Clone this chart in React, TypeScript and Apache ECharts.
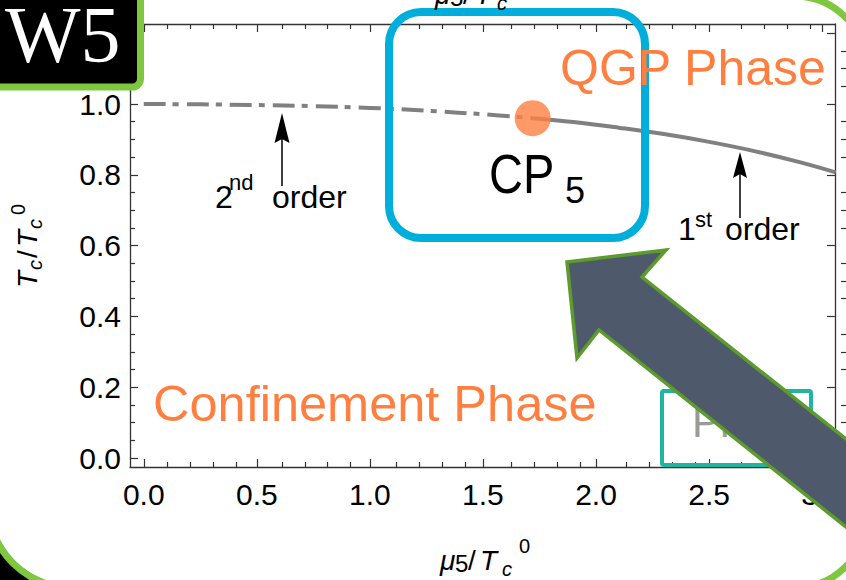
import React, { useEffect, useRef } from "react";
import * as echarts from "echarts";

// ---- data ----
const muSecondOrder = [0, 0.25, 0.5, 0.75, 1.0, 1.25, 1.5, 1.72];
const tcSecondOrder = [1.0, 0.999, 0.997, 0.994, 0.989, 0.981, 0.971, 0.96];
const muFirstOrder = [1.72, 1.9, 2.1, 2.3, 2.5, 2.7, 2.9, 3.06];
const tcFirstOrder = [0.96, 0.949, 0.933, 0.915, 0.893, 0.867, 0.836, 0.807];
const criticalPoint = [1.72, 0.96];

const xMajorTicks = [0, 0.5, 1.0, 1.5, 2.0, 2.5, 3.0];
const xMinorTicks = [0.1, 0.2, 0.3, 0.4, 0.6, 0.7, 0.8, 0.9, 1.1, 1.2, 1.3, 1.4, 1.6, 1.7, 1.8, 1.9, 2.1, 2.2, 2.3, 2.4, 2.6, 2.7, 2.8, 2.9];
const yMajorTicks = [0, 0.2, 0.4, 0.6, 0.8, 1.0, 1.2];
const yTickLabels = [0, 0.2, 0.4, 0.6, 0.8, 1.0];
const yMinorTicks = [0.05, 0.1, 0.15, 0.25, 0.3, 0.35, 0.45, 0.5, 0.55, 0.65, 0.7, 0.75, 0.85, 0.9, 0.95, 1.05, 1.1, 1.15];

const X_MIN = -0.0609;
const X_MAX = 3.0565;
const Y_MIN = -0.0254;
const Y_MAX = 1.226;

const FONT = "'Liberation Sans', Arial, sans-serif";
const AXIS_COLOR = "#333333";
const ORANGE = "#FF7F41";
const GRAY = "#808080";
const GREEN = "#7DC83E";

const pairs = (xs: number[], ys: number[]) => xs.map((x, i) => [x, ys[i]]);

function t(text: string, x: number, baseline: number, fs: number, opts: any = {}) {
  const sy = opts.scaleY || 1;
  return {
    type: "text",
    x,
    y: baseline - 0.35 * fs * sy,
    scaleY: sy,
    z: opts.z ?? 50,
    style: {
      text,
      font: `${opts.italic ? "italic " : ""}${fs}px ${opts.family || FONT}`,
      fill: opts.fill || "#000",
      textAlign: opts.align || "left",
      textVerticalAlign: "middle",
    },
  };
}

function muLabel(dx: number, dy: number) {
  return [
    t("μ", 440 + dx, 570 + dy, 28, { italic: true }),
    t("5", 455 + dx, 572 + dy, 24),
    t("/", 468 + dx, 570 + dy, 28),
    t("T", 480 + dx, 570 + dy, 28, { italic: true }),
    t("c", 502 + dx, 576 + dy, 20, { italic: true }),
    t("0", 519 + dx, 553 + dy, 20),
  ];
}

function cornerArc(cx: number, cy: number, r: number, a0: number, a1: number) {
  return {
    type: "arc",
    z: 80,
    shape: { cx, cy, r, startAngle: a0, endAngle: a1, clockwise: true },
    style: { fill: "none", stroke: GREEN, lineWidth: 7 },
  };
}

function xAxisDef(grid: number, position: string, major: boolean, labels: boolean) {
  return {
    type: "value",
    gridIndex: grid,
    position,
    min: X_MIN,
    max: X_MAX,
    splitLine: { show: false },
    axisLine: { show: major, onZero: false, lineStyle: { color: AXIS_COLOR, width: 1.3 } },
    axisTick: {
      show: true,
      inside: true,
      length: major ? 8 : 5,
      customValues: major ? xMajorTicks : xMinorTicks,
      lineStyle: { color: AXIS_COLOR, width: 1.2 },
    },
    axisLabel: labels
      ? {
          show: true,
          customValues: xMajorTicks,
          formatter: (v: number) => v.toFixed(1),
          fontSize: 30,
          fontFamily: FONT,
          color: "#000",
          margin: 12,
        }
      : { show: false },
  };
}

function yAxisDef(grid: number, position: string, major: boolean, labels: boolean) {
  return {
    type: "value",
    gridIndex: grid,
    position,
    min: Y_MIN,
    max: Y_MAX,
    splitLine: { show: false },
    axisLine: { show: major, onZero: false, lineStyle: { color: AXIS_COLOR, width: 1.3 } },
    axisTick: {
      show: true,
      inside: true,
      length: major ? 8 : 5,
      customValues: major ? yMajorTicks : yMinorTicks,
      lineStyle: { color: AXIS_COLOR, width: 1.2 },
    },
    axisLabel: labels
      ? {
          show: true,
          customValues: yTickLabels,
          formatter: (v: number) => v.toFixed(1),
          fontSize: 30,
          fontFamily: FONT,
          color: "#000",
          margin: 9,
        }
      : { show: false },
  };
}

export default function App() {
  const ref = useRef<HTMLDivElement>(null);
  useEffect(() => {
    const chart = echarts.init(ref.current!, null, { renderer: "svg" });
    const gridRect = { left: 130, top: 24, width: 717, height: 443 };
    const option: any = {
      animation: false,
      backgroundColor: "#ffffff",
      grid: [{ ...gridRect }, { ...gridRect }],
      xAxis: [
        xAxisDef(0, "bottom", true, true),
        xAxisDef(0, "top", true, false),
        xAxisDef(1, "bottom", false, false),
        xAxisDef(1, "top", false, false),
      ],
      yAxis: [
        yAxisDef(0, "left", true, true),
        yAxisDef(0, "right", true, false),
        yAxisDef(1, "left", false, false),
        yAxisDef(1, "right", false, false),
      ],
      series: [
        {
          name: "2nd order",
          type: "line",
          xAxisIndex: 0,
          yAxisIndex: 0,
          data: pairs(muSecondOrder, tcSecondOrder),
          smooth: 0.4,
          symbol: "none",
          lineStyle: { color: GRAY, width: 4, type: [22, 7, 6, 8], cap: "butt" },
          z: 3,
        },
        {
          name: "1st order",
          type: "line",
          xAxisIndex: 0,
          yAxisIndex: 0,
          data: pairs(muFirstOrder, tcFirstOrder),
          smooth: 0.4,
          symbol: "none",
          lineStyle: { color: GRAY, width: 4 },
          z: 3,
        },
        {
          name: "CP5",
          type: "scatter",
          xAxisIndex: 0,
          yAxisIndex: 0,
          data: [criticalPoint],
          symbol: "circle",
          symbolSize: 36,
          itemStyle: { color: ORANGE },
          z: 4,
        },
      ],
      graphic: [
        // bottom-left black corner outside the rounded panel
        { type: "rect", z: -20, shape: { x: 0, y: 503, width: 73, height: 77 }, style: { fill: "#000" } },
        { type: "circle", z: -19, shape: { cx: 73, cy: 503, r: 82 }, style: { fill: "#ffffff" } },
        // green rounded corners of the panel
        cornerArc(73, 503, 85, Math.PI / 2, Math.PI),
        cornerArc(794, 69, 73, -Math.PI / 2, 0),
        cornerArc(794, 515, 73, 0, Math.PI / 2),
        // axis titles
        ...muLabel(0, 0),
        ...muLabel(-5, -566),
        {
          type: "group",
          x: 37,
          y: 288,
          rotation: Math.PI / 2,
          z: 50,
          children: [
            t("T", 0, 0, 28, { italic: true }),
            t("c", 18, 5, 20, { italic: true }),
            t("/", 30, 0, 28),
            t("T", 41, 0, 28, { italic: true }),
            t("c", 59, 5, 20, { italic: true }),
            t("0", 73, -12, 20),
          ],
        },
        // phase labels
        t("QGP Phase", 560, 85, 50, { fill: ORANGE, z: 45 }),
        t("Confinement Phase", 153, 421, 50.5, { fill: ORANGE, z: 45 }),
        // CP5 label
        t("CP", 489, 193, 47, { scaleY: 1.2, z: 45 }),
        t("5", 565, 203, 36, { z: 45 }),
        // 2nd order annotation
        t("2", 215, 208, 32),
        t("nd", 229, 190, 22),
        t("order", 272, 208, 32),
        { type: "line", z: 50, shape: { x1: 282, y1: 186, x2: 282, y2: 138 }, style: { stroke: "#000", lineWidth: 1.5 } },
        { type: "polygon", z: 50, shape: { points: [[282, 113], [274.5, 143], [282, 139], [289.5, 143]] }, style: { fill: "#000" } },
        // 1st order annotation
        t("1", 678, 240, 32),
        t("st", 695, 227, 22),
        t("order", 725, 240, 32),
        { type: "line", z: 50, shape: { x1: 740, y1: 218, x2: 740, y2: 172 }, style: { stroke: "#000", lineWidth: 1.5 } },
        { type: "polygon", z: 50, shape: { points: [[740, 152], [733, 178], [740, 174], [747, 178]] }, style: { fill: "#000" } },
        // blue highlight box
        {
          type: "rect",
          z: 40,
          shape: { x: 389, y: 12, width: 256, height: 226, r: 32 },
          style: { fill: "none", stroke: "#00AEDB", lineWidth: 8 },
        },
        // teal box with grey text
        t("Ph", 692, 437, 42, { fill: "#9A9A9A", z: 41 }),
        {
          type: "rect",
          z: 42,
          shape: { x: 662, y: 391, width: 149, height: 74, r: 2 },
          style: { fill: "none", stroke: "#1FB5A2", lineWidth: 4 },
        },
        // big arrow
        {
          type: "polygon",
          z: 60,
          shape: {
            points: [
              [567, 262],
              [666, 250],
              [642, 277],
              [900, 482],
              [900, 570],
              [599, 330],
              [577, 358],
            ],
          },
          style: { fill: "#4E5A6C", stroke: "#5C9B2C", lineWidth: 3.5, lineJoin: "miter" },
        },
        // W5 badge
        {
          type: "rect",
          z: 70,
          shape: { x: -10, y: -10, width: 150.5, height: 97, r: 8 },
          style: { fill: "#000", stroke: GREEN, lineWidth: 7 },
        },
        t("W5", 5, 63, 80, { fill: "#ffffff", family: "'Liberation Serif', serif", z: 71 }),
      ],
    };
    chart.setOption(option);
    return () => chart.dispose();
  }, []);
  return <div ref={ref} style={{ position: "fixed", left: 0, top: 0, width: 846, height: 580 }} />;
}
